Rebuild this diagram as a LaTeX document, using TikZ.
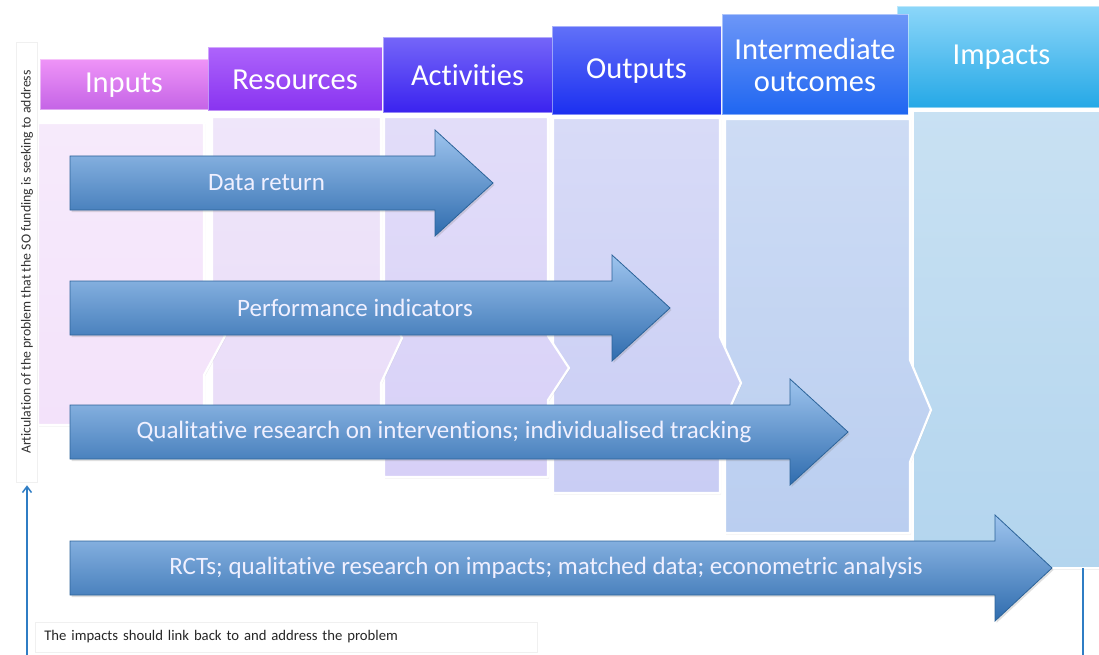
\documentclass[tikz,border=0pt]{standalone}
\usepackage{fontspec}
\setmainfont{Carlito}[Ligatures=NoCommon]
\usetikzlibrary{shadows,arrows.meta}

\definecolor{arrowTop}{HTML}{9EC4EE}
\definecolor{arrowBot}{HTML}{2F6CAE}
\definecolor{arrowLine}{HTML}{2C6399}
\definecolor{linkBlue}{HTML}{2F7DC4}
% headers
\definecolor{inTop}{HTML}{EE93F7}   \definecolor{inBot}{HTML}{C463E6}
\definecolor{resTop}{HTML}{AD63FB}  \definecolor{resBot}{HTML}{8833F0}
\definecolor{actTop}{HTML}{7465F8}  \definecolor{actBot}{HTML}{3A22EF}
\definecolor{outTop}{HTML}{6070F8}  \definecolor{outBot}{HTML}{1B2FF0}
\definecolor{intTop}{HTML}{6C96F7}  \definecolor{intBot}{HTML}{1F66F1}
\definecolor{impTop}{HTML}{8BD6F9}  \definecolor{impBot}{HTML}{25A8E6}
% panels
\definecolor{inBody}{HTML}{F3E2FA}
\definecolor{resBody}{HTML}{E9DCF8}
\definecolor{actBody}{HTML}{D7D0F7}
\definecolor{outBody}{HTML}{C9CDF4}
\definecolor{intBody}{HTML}{BACEF0}
\definecolor{impBody}{HTML}{B3D5EE}

\tikzset{
  body/.style={draw=white, line width=2.2pt, line join=round,
    drop shadow={opacity=0.12, shadow xshift=1pt, shadow yshift=-1.5pt}},
  header/.style={draw=white, draw opacity=0.45, line width=1pt},
  headtext/.style={text=white, align=center, font=\fontsize{30.5}{32}\selectfont},
  barrow/.style={draw=arrowLine, line width=0.8pt, line join=miter,
    top color=arrowTop, bottom color=arrowBot,
    drop shadow={opacity=0.25, shadow xshift=1.5pt, shadow yshift=-2pt}},
  arrowtext/.style={text=white!94!blue, font=\fontsize{25}{27}\selectfont},
  link/.style={draw=linkBlue, line width=1.5pt},
  notebox/.style={fill=white, draw=black!6, line width=0.6pt}
}

% header band with its title
\newcommand{\myHeader}[8]{
\draw[header, top color=#6, bottom color=#7] (#2,#4) rectangle (#3,#5);
\node[headtext] (#1) at ({(#2+#3)/2},{(#4+#5)/2}) {#8};
}
% body panel, point on the right side between #5 and #7
\newcommand{\myBody}[8]{
\draw[body, top color=#8!72!white, bottom color=#8]
  (#1,#3) -- (#2,#3) -- (#2,#5) -- ({#2+21},#6) -- (#2,#7) -- (#2,#4) -- (#1,#4) -- cycle;
}
% block arrow: start, end of shaft, tip, middle line, text
\newcommand{\myArrow}[6]{
\draw[barrow] (#2,{#5-27}) -- (#3,{#5-27}) -- (#3,{#5-53}) -- (#4,#5)
  -- (#3,{#5+53}) -- (#3,{#5+27}) -- (#2,{#5+27}) -- cycle;
\node[arrowtext] (#1) at ({(#2+#4)/2-15},#5) {#6};
}

\begin{document}
\begin{tikzpicture}[x=1pt, y=-1pt]
	\useasboundingbox (0,0) rectangle (1099,655);

	% panels, right to left
	\draw[body, top color=impBody!72!white, bottom color=impBody] (913,111) rectangle (1106,568);
	\myBody{725}{910}{119}{533}{360}{410}{462}{intBody}
	\myBody{553}{720}{118}{493}{337}{383}{430}{outBody}
	\myBody{384}{548}{117}{477}{336}{368}{400}{actBody}
	\myBody{212}{381}{117}{455}{294}{338}{383}{resBody}
	\myBody{38}{204}{123}{425}{298}{336}{375}{inBody}

	\myHeader{impacts}{897}{1106}{7}{108}{impTop}{impBot}{Impacts}
	\myHeader{inputs}{40}{208}{60}{110}{inTop}{inBot}{Inputs}
	\myHeader{resources}{208}{382}{48}{111}{resTop}{resBot}{Resources}
	\myHeader{activities}{383}{552}{38}{113}{actTop}{actBot}{Activities}
	\myHeader{outputs}{552}{721}{27}{115}{outTop}{outBot}{Outputs}
	\myHeader{intermediate}{722}{908}{15}{115}{intTop}{intBot}{Intermediate\\outcomes}

	\myArrow{datareturn}{70}{435}{493}{183}{Data return}
	\myArrow{perfind}{70}{612}{670}{308}{Performance indicators}
	\myArrow{qualres}{70}{790}{848}{432}{Qualitative research on interventions; individualised tracking}
	\myArrow{rcts}{70}{995}{1052}{568}{RCTs; qualitative research on impacts; matched data; econometric analysis}

	\node[notebox, rotate=90, minimum width=440pt, minimum height=21pt, inner sep=0pt,
	  font=\fontsize{13.8}{16}\selectfont, text=black!80] (problem) at (27,262)
	  {Articulation of the problem that the SO funding is seeking to address};
	\node[notebox, anchor=west, minimum height=30pt, text width=484pt, inner xsep=9pt,
	  font=\fontsize{14.7}{17}\selectfont, text=black!85] (note) at (35,637)
	  {The impacts should link back to and address the problem};

	\coordinate (leftfoot) at (27,655);
	\coordinate (impfoot) at (1083,568);
	\coordinate (rightfoot) at (1083,655);
	\draw[link, -{Straight Barb[length=6pt, width=9pt]}, shorten >=3pt] (leftfoot) -- (problem.west);
	\draw[link] (impfoot) -- (rightfoot);
\end{tikzpicture}
\end{document}
